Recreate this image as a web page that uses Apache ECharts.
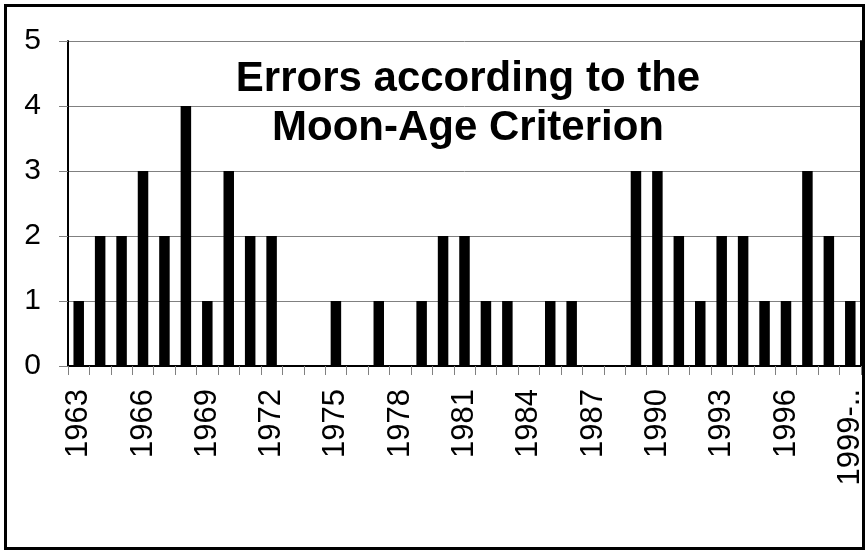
<!DOCTYPE html>
<html>
<head>
<meta charset="utf-8">
<script src="https://cdn.jsdelivr.net/npm/echarts@6/dist/echarts.min.js"></script>
<style>
html,body{margin:0;padding:0;background:#fff;}
#chart{width:868px;height:552px;}
</style>
</head>
<body>
<div id="chart"></div>
<script>
const years = ['1963','1964','1965','1966','1967','1968','1969','1970','1971','1972',
  '1973','1974','1975','1976','1977','1978','1979','1980','1981','1982',
  '1983','1984','1985','1986','1987','1988','1989','1990','1991','1992',
  '1993','1994','1995','1996','1997','1998','1999-2000'];
const errors = [1,2,2,3,2,4,1,3,2,2,
  0,0,1,0,1,0,1,2,2,1,
  1,0,1,1,0,0,3,3,2,1,
  2,2,1,1,3,2,1];
const yTicks = [0,1,2,3,4,5];
const titleLines = ['Errors according to the', 'Moon-Age Criterion'];

const FONT = "'Liberation Sans', Arial, sans-serif";
const chart = echarts.init(document.getElementById('chart'), null, {renderer:'canvas'});
chart.setOption({
  animation:false,
  backgroundColor:'#fff',
  title:{
    text: titleLines.join('\n'),
    left: 468, top: 55, padding: 0,
    textAlign:'center',
    textStyle:{fontFamily:FONT, fontWeight:'bold', fontSize:42, lineHeight:49, color:'#000'}
  },
  graphic:[{
    type:'rect', z:-1, silent:true,
    shape:{x:5.5, y:5.5, width:858, height:543},
    style:{fill:'none', stroke:'#000', lineWidth:3}
  }],
  grid:{left:68, right:7, top:41, bottom:186, containLabel:false},
  xAxis:[{
    type:'category', data:years, boundaryGap:true,
    axisLine:{show:true, lineStyle:{color:'#808080', width:1}},
    axisTick:{show:true, interval:0, length:9, lineStyle:{color:'#808080'}},
    axisLabel:{interval:2, rotate:90, margin:23, fontFamily:FONT, fontSize:31, color:'#000',
      formatter: function (v) { return v.length > 8 ? v.slice(0, 5) + '..' : v; }},
    splitLine:{show:false}
  },{
    type:'category', data:years, position:'top',
    axisLine:{show:true, lineStyle:{color:'#000', width:2}},
    axisTick:{show:false}, axisLabel:{show:false}, splitLine:{show:false}
  }],
  yAxis:[{
    type:'value', min:yTicks[0], max:yTicks[yTicks.length-1], interval:1,
    axisLine:{show:true, lineStyle:{color:'#000', width:2}},
    axisTick:{show:true, length:9, lineStyle:{color:'#808080'}},
    axisLabel:{margin:27, fontFamily:FONT, fontSize:30, color:'#000'},
    splitLine:{show:true, lineStyle:{color:'#808080', width:1}}
  },{
    type:'value', min:0, max:5, interval:1, position:'right',
    axisLine:{show:true, lineStyle:{color:'#000', width:2}},
    axisTick:{show:false}, axisLabel:{show:false}, splitLine:{show:false}
  }],
  series:[{
    type:'bar', data:errors, xAxisIndex:0, yAxisIndex:0,
    barWidth:'49%',
    itemStyle:{color:'#000'}
  }]
});
</script>
</body>
</html>
